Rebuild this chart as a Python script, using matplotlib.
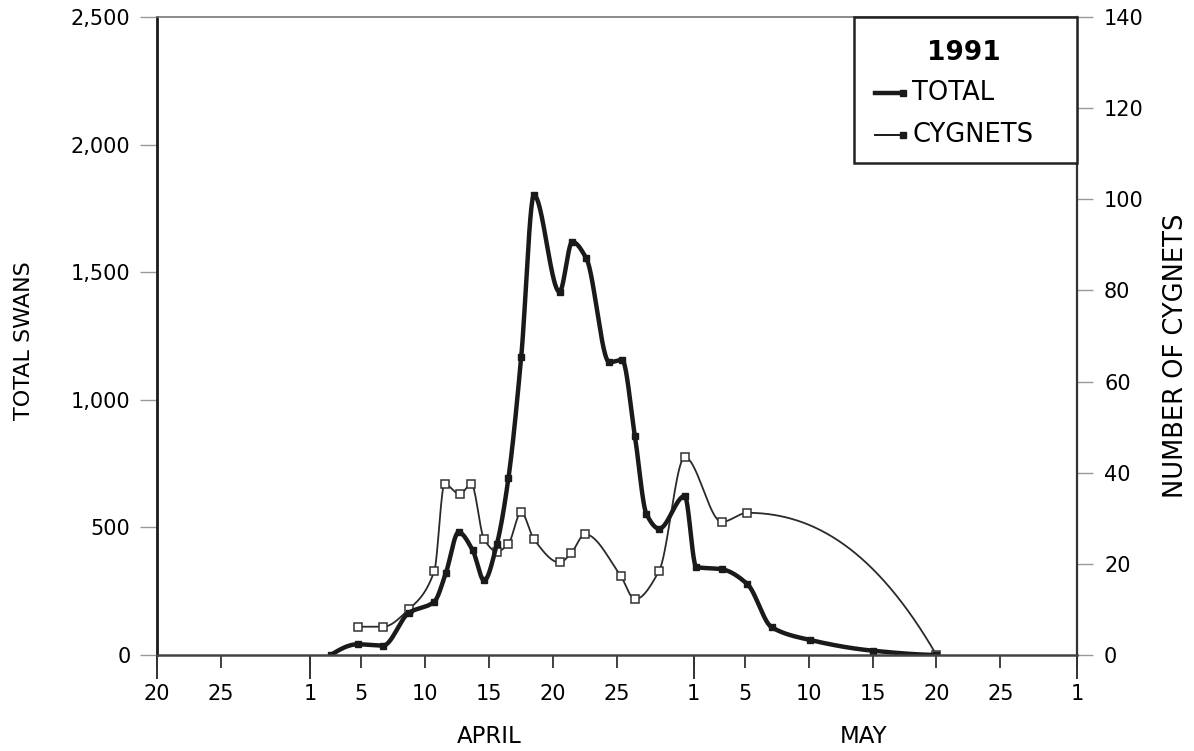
import numpy as np
import matplotlib
matplotlib.use("Agg")
import matplotlib.pyplot as plt
from matplotlib.patches import Rectangle
from matplotlib.lines import Line2D
from matplotlib.transforms import blended_transform_factory

# day numbers counted from March 31 (April 1 = 1, May 1 = 31)
total_day = [2.6, 4.7, 6.7, 8.7, 10.7, 11.6, 12.6, 13.7, 14.6, 15.6, 16.5, 17.5, 18.5,
             20.5, 21.5, 22.6, 24.4, 25.4, 26.4, 27.3, 28.3, 30.3, 31.2, 33.2, 35.2,
             37.1, 40.1, 45.0, 50.0]
total_swans = [0, 42, 37, 165, 209, 320, 481, 411, 292, 435, 692, 1166, 1802,
               1423, 1619, 1554, 1147, 1156, 858, 553, 495, 623, 345, 336, 278,
               109, 59, 17, 0]

cygnet_day = [4.7, 6.7, 8.7, 10.7, 11.5, 12.7, 13.6, 14.6, 15.6, 16.5, 17.5, 18.5,
              20.5, 21.4, 22.5, 25.3, 26.4, 28.3, 30.3, 33.2, 35.2, 50.0]
cygnets = [6.2, 6.2, 10.0, 18.4, 37.5, 35.3, 37.5, 25.4, 22.7, 24.4, 31.3, 25.4,
           20.3, 22.3, 26.5, 17.3, 12.2, 18.5, 43.4, 29.2, 31.2, 0]

tick_day = [-11, -6, 1, 5, 10, 15, 20, 25, 31, 35, 40, 45, 50, 55, 61]
tick_label = ["20", "25", "1", "5", "10", "15", "20", "25",
              "1", "5", "10", "15", "20", "25", "1"]
month_start = [-11, 1, 31, 61]
month_names = ["APRIL", "MAY"]
month_label_day = [15, 44.3]

swan_ticks = [0, 500, 1000, 1500, 2000, 2500]
cygnet_ticks = [0, 20, 40, 60, 80, 100, 120, 140]

INK = "#1a1a1a"


def pchip(x, y, xs):
    # shape preserving cubic through the points, like the smoothed plot lines
    x = np.asarray(x, float)
    y = np.asarray(y, float)
    h = np.diff(x)
    d = np.diff(y) / h
    n = len(x)
    m = np.zeros(n)
    for k in range(1, n - 1):
        if d[k - 1] * d[k] > 0:
            w1 = 2 * h[k] + h[k - 1]
            w2 = h[k] + 2 * h[k - 1]
            m[k] = (w1 + w2) / (w1 / d[k - 1] + w2 / d[k])

    def end_slope(h0, h1, d0, d1):
        s = ((2 * h0 + h1) * d0 - h0 * d1) / (h0 + h1)
        if np.sign(s) != np.sign(d0):
            s = 0.0
        elif np.sign(d0) != np.sign(d1) and abs(s) > abs(3 * d0):
            s = 3 * d0
        return s

    m[0] = end_slope(h[0], h[1], d[0], d[1])
    m[-1] = end_slope(h[-1], h[-2], d[-1], d[-2])
    idx = np.clip(np.searchsorted(x, xs) - 1, 0, n - 2)
    t = (xs - x[idx]) / h[idx]
    h00 = 2 * t**3 - 3 * t**2 + 1
    h10 = t**3 - 2 * t**2 + t
    h01 = -2 * t**3 + 3 * t**2
    h11 = t**3 - t**2
    return h00 * y[idx] + h10 * h[idx] * m[idx] + h01 * y[idx + 1] + h11 * h[idx] * m[idx + 1]


fig = plt.figure(figsize=(11.94, 7.51), dpi=100)
ax = fig.add_axes([157 / 1194, 1 - 655 / 751, 920 / 1194, 638 / 751])
ax2 = ax.twinx()
ax.set_zorder(ax2.get_zorder() + 1)
ax.patch.set_visible(False)

# cygnets on the right axis
xs = np.linspace(cygnet_day[0], cygnet_day[-1], 800)
ax2.plot(xs, pchip(cygnet_day, cygnets, xs), color="#2a2a2a", lw=1.3)
ax2.plot(cygnet_day, cygnets, ls="none", marker="s", ms=6, mfc="white",
         mec="#333333", mew=1.1)

# total swans on the left axis
xs = np.linspace(total_day[0], total_day[-1], 1200)
ax.plot(xs, pchip(total_day, total_swans, xs), color=INK, lw=3.2,
        solid_capstyle="round", solid_joinstyle="round")
ax.plot(total_day, total_swans, ls="none", marker="s", ms=4, color=INK)

ax.set_xlim(-11, 61)
ax.set_ylim(0, 2500)
ax2.set_ylim(0, 140)

ax.set_xticks(tick_day)
ax.set_xticklabels(tick_label, fontsize=15)
ax.set_xticks(month_start, minor=True)
ax.xaxis.remove_overlapping_locs = False
ax.tick_params(axis="x", which="major", direction="out", length=9, width=1.3,
               color="#333333", pad=12)
ax.tick_params(axis="x", which="minor", direction="out", length=17, width=1.4,
               color="#333333")

ax.set_yticks(swan_ticks)
ax.set_yticklabels([f"{v:,}" for v in swan_ticks], fontsize=15)
ax.tick_params(axis="y", direction="out", length=12, width=1.0, color="#999999", pad=7)

ax2.set_yticks(cygnet_ticks)
ax2.set_yticklabels([str(v) for v in cygnet_ticks], fontsize=15)
ax2.tick_params(axis="y", direction="out", length=11.5, width=1.0, color="#999999", pad=8)

for name in ["left", "right", "top", "bottom"]:
    ax2.spines[name].set_visible(False)
ax2.spines["right"].set_visible(True)
ax2.spines["right"].set_linewidth(1.6)
ax2.spines["right"].set_color("#333333")
ax.spines["right"].set_visible(False)
ax.spines["left"].set_linewidth(2.0)
ax.spines["left"].set_color(INK)
ax.spines["bottom"].set_linewidth(1.8)
ax.spines["bottom"].set_color("#444444")
ax.spines["top"].set_linewidth(1.2)
ax.spines["top"].set_color("#777777")

# month names under the day numbers
trans = blended_transform_factory(ax.transData, ax.transAxes)
for day, name in zip(month_label_day, month_names):
    ax.text(day, -0.1285, name, transform=trans, ha="center", va="center", fontsize=16.5)

fig.text(24 / 1194, 1 - 341 / 751, "TOTAL SWANS", rotation=90, ha="center",
         va="center", fontsize=16)
fig.text(1176 / 1194, 1 - 356 / 751, "NUMBER OF CYGNETS", rotation=90, ha="center",
         va="center", fontsize=18.5)

# legend box in the upper right corner
ax.add_patch(Rectangle((0.758, 0.771), 0.242, 0.229, transform=ax.transAxes,
                       facecolor="white", edgecolor="#222222", lw=1.8, zorder=5,
                       clip_on=False))
ax.text(0.877, 0.944, "1991", transform=ax.transAxes, ha="center", va="center",
        fontsize=19, fontweight="bold", zorder=6)
ax.add_line(Line2D([0.7804, 0.8109], [0.881, 0.881], transform=ax.transAxes,
                   color=INK, lw=3.2, marker="s", ms=4, markevery=[1], zorder=6))
ax.text(0.821, 0.881, "TOTAL", transform=ax.transAxes, ha="left", va="center",
        fontsize=18.5, zorder=6)
ax.add_line(Line2D([0.7804, 0.8109], [0.815, 0.815], transform=ax.transAxes,
                   color=INK, lw=1.4, marker="s", ms=4, markevery=[1], zorder=6))
ax.text(0.821, 0.815, "CYGNETS", transform=ax.transAxes, ha="left", va="center",
        fontsize=18.5, zorder=6)

fig.savefig("out.png", dpi=100)
